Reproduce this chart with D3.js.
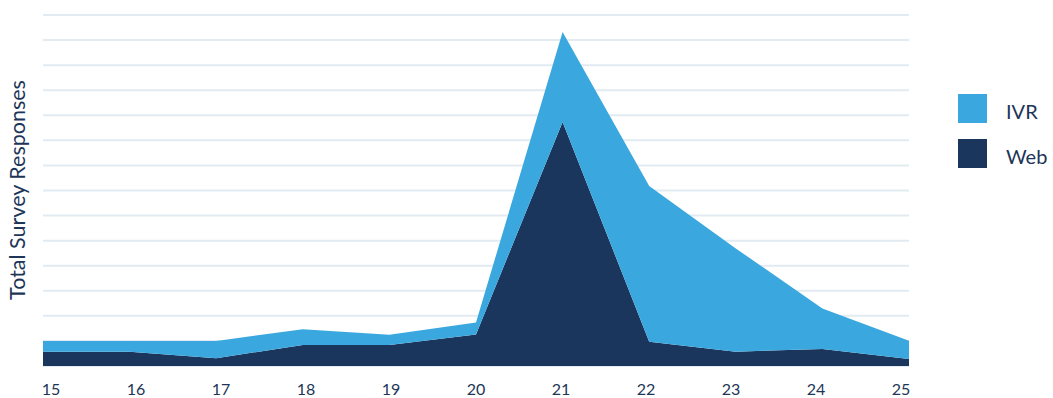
<!DOCTYPE html>
<html>
<head>
<meta charset="utf-8">
<script src="https://cdn.jsdelivr.net/npm/d3@7"></script>
<style>
  body { margin: 0; background: #fff; }
  text { font-family: "Lato", "Open Sans", sans-serif; fill: #1d3557; }
</style>
</head>
<body>
<svg width="1053" height="398"></svg>
<script>
// data (units: one gridline = 100)
var weeks = ["15", "16", "17", "18", "19", "20", "21", "22", "23", "24", "25"];
var webValues = [57, 57, 31, 84, 84, 126, 973, 97, 57, 68, 28];
var ivrValues = [43, 43, 69, 63, 41, 48, 359, 621, 412, 161, 73];
var seriesNames = ["Web", "IVR"];
var colors = { "IVR": "#3aa8df", "Web": "#1b365d" };
var yMax = 1400;

var svg = d3.select("svg"),
    width = +svg.attr("width"),
    height = +svg.attr("height");

var plotLeft = 43, plotRight = 909, plotTop = 15, plotBottom = 366;

var rows = weeks.map(function(w, i) {
    return { week: w, Web: webValues[i], IVR: ivrValues[i] };
});

var x = d3.scalePoint().domain(weeks).range([plotLeft, plotRight]);
var xLabels = d3.scalePoint().domain(weeks).range([50.5, 900.5]); // labels sit a bit inside the plot
var y = d3.scaleLinear().domain([0, yMax]).range([plotBottom, plotTop]);

// gridlines
svg.append("g")
    .attr("class", "grid")
    .selectAll("line")
    .data(y.ticks(14))
    .enter().append("line")
    .attr("x1", plotLeft)
    .attr("x2", plotRight)
    .attr("y1", function(d) { return y(d); })
    .attr("y2", function(d) { return y(d); })
    .attr("stroke", "#e2ebf2")
    .attr("stroke-width", 2);

var stack = d3.stack().keys(seriesNames);
var layers = stack(rows);

var area = d3.area()
    .x(function(d) { return x(d.data.week); })
    .y0(function(d) { return y(d[0]); })
    .y1(function(d) { return y(d[1]); });

svg.append("g")
    .selectAll("path")
    .data(layers)
    .enter().append("path")
    .attr("fill", function(d) { return colors[d.key]; })
    .attr("d", area);

// x axis labels only
var xAxis = svg.append("g")
    .attr("transform", "translate(0," + (plotBottom + 29) + ")")
    .call(d3.axisBottom(xLabels).tickSize(0).tickPadding(0));
xAxis.select(".domain").remove();
xAxis.selectAll("text")
    .attr("dy", 0)
    .style("font-family", "Lato, sans-serif")
    .style("font-size", "16px")
    .style("fill", "#1d3557");

// y axis title
svg.append("text")
    .attr("transform", "translate(25," + 190 + ") rotate(-90)")
    .attr("text-anchor", "middle")
    .style("font-size", "21.5px")
    .text("Total Survey Responses");

// legend
var legend = svg.append("g")
    .selectAll("g")
    .data(["IVR", "Web"])
    .enter().append("g")
    .attr("transform", function(d, i) { return "translate(958," + (94 + i * 45) + ")"; });

legend.append("rect")
    .attr("width", 29)
    .attr("height", 29)
    .attr("fill", function(d) { return colors[d]; });

legend.append("text")
    .attr("x", 48)
    .attr("y", 25)
    .style("font-size", "20px")
    .text(function(d) { return d; });
</script>
</body>
</html>
